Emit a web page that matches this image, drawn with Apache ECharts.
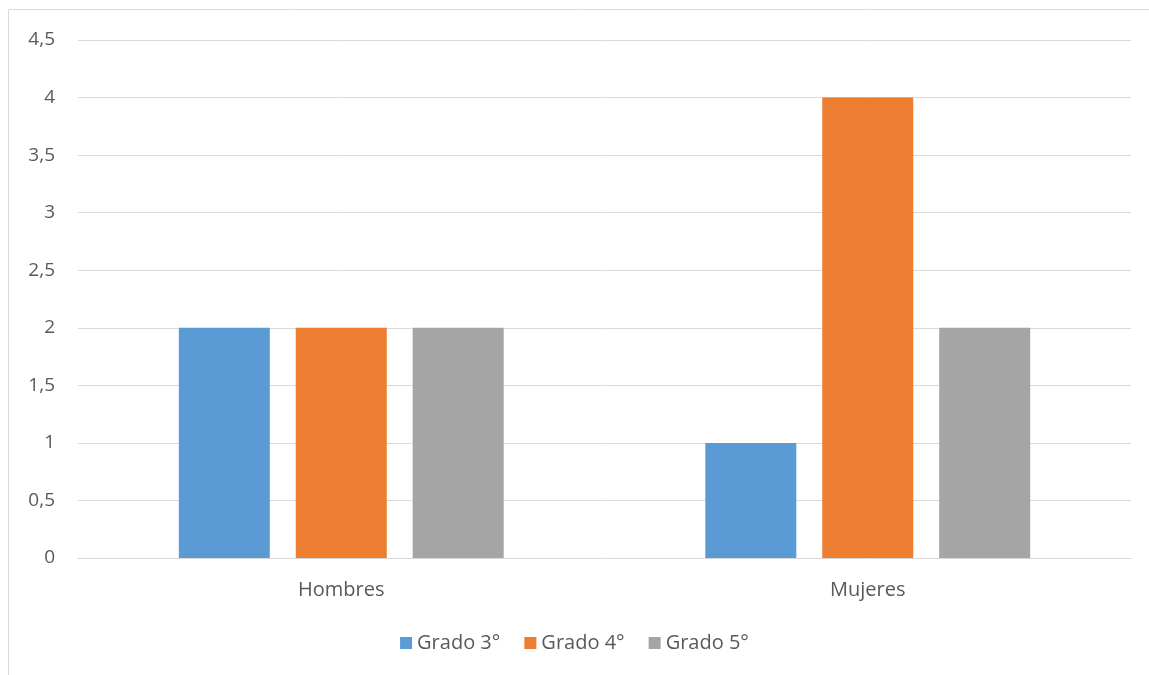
<!DOCTYPE html>
<html><head><meta charset="utf-8">
<script src="https://cdn.jsdelivr.net/npm/echarts@6/dist/echarts.min.js"></script>
<style>html,body{margin:0;padding:0;background:#fff}#c{width:1149px;height:675px}</style>
</head><body><div id="c"></div>
<script>
const categories = ['Hombres', 'Mujeres'];
const grado3 = [2, 1];
const grado4 = [2, 4];
const grado5 = [2, 2];
const seriesNames = ['Grado 3°', 'Grado 4°', 'Grado 5°'];
const colors = ['#5B9BD5', '#ED7D31', '#A5A5A5'];
const font = '"Open Sans", sans-serif';
const chart = echarts.init(document.getElementById('c'));
const mk = (name, data, i) => ({
  name, type: 'bar', data, barWidth: 91, barGap: '28.5%',
  itemStyle: { color: colors[i] }
});
chart.setOption({
  animation: false,
  color: colors,
  graphic: [{ type: 'rect', shape: { x: 8.5, y: 9.5, width: 1160, height: 700 },
    style: { fill: 'none', stroke: '#D9D9D9', lineWidth: 1 }, silent: true }],
  grid: { left: 78, right: 18, top: 40, bottom: 117 },
  legend: {
    bottom: 17, left: 'center', itemWidth: 12, itemHeight: 12, itemGap: 24,
    icon: 'rect', textStyle: { color: '#595959', fontSize: 20, fontFamily: font }
  },
  xAxis: {
    type: 'category', data: categories,
    axisLine: { lineStyle: { color: '#D9D9D9' } }, axisTick: { show: false },
    axisLabel: { color: '#595959', fontSize: 20, fontFamily: font, margin: 22 }
  },
  yAxis: {
    type: 'value', min: 0, max: 4.5, interval: 0.5,
    axisLine: { show: false }, axisTick: { show: false },
    splitLine: { lineStyle: { color: '#D9D9D9' } },
    axisLabel: { color: '#595959', fontSize: 19, fontFamily: font, margin: 23,
      formatter: v => String(v).replace('.', ',') }
  },
  series: [mk(seriesNames[0], grado3, 0), mk(seriesNames[1], grado4, 1), mk(seriesNames[2], grado5, 2)]
});
</script></body></html>
